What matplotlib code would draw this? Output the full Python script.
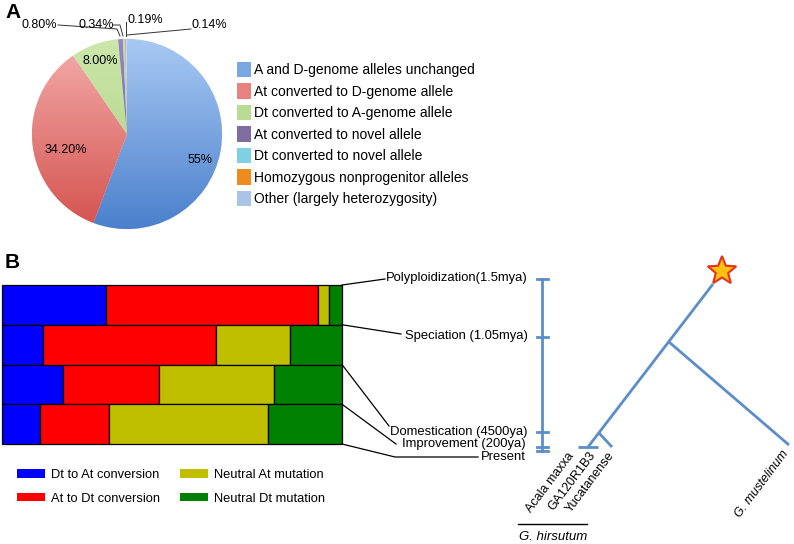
import numpy as np
import matplotlib.pyplot as plt
from matplotlib.patches import Patch, Polygon
from matplotlib.colors import LinearSegmentedColormap

plt.rcParams['font.family'] = ['Liberation Sans', 'DejaVu Sans']

W, H = 794, 544

# ---- panel A data
pie_labels = ['A and D-genome alleles unchanged', 'At converted to D-genome allele',
              'Dt converted to A-genome allele', 'At converted to novel allele',
              'Dt converted to novel allele', 'Homozygous nonprogenitor alleles',
              'Other (largely heterozygosity)']
pie_values = [55, 34.2, 8.0, 0.8, 0.34, 0.19, 0.14]
pie_text = ['55%', '34.20%', '8.00%', '0.80%', '0.34%', '0.19%', '0.14%']
pie_light = ['#a9c9f3', '#f4aeac', '#cde7ab', '#9a88b8', '#a6e2ee', '#f4a552', '#c5d8f0']
pie_dark = ['#4a80cc', '#d4524e', '#a6cf7c', '#6c5a8e', '#5cc0d6', '#e07a10', '#9ab8e0']
pie_mid = ['#79a7e2', '#e6837f', '#b9dc92', '#7f6ca0', '#7fd0e2', '#ee8a1e', '#aac4e8']

# ---- panel B data
stages = ['Polyploidization', 'Speciation', 'Domestication', 'Improvement']
dt_to_at = [0.306, 0.121, 0.179, 0.112]
at_to_dt = [0.624, 0.509, 0.282, 0.203]
neutral_at = [0.032, 0.218, 0.338, 0.468]
neutral_dt = [0.038, 0.152, 0.201, 0.217]
seg_names = ['Dt to At conversion', 'At to Dt conversion', 'Neutral At mutation', 'Neutral Dt mutation']
seg_colors = ['#0000ff', '#ff0000', '#bfbf00', '#008000']

events = ['Polyploidization(1.5mya)', 'Speciation (1.05mya)', 'Domestication (4500ya)',
          'Improvement (200ya)', 'Present']
event_text_y = [278, 336, 432, 444, 457]
event_text_right = [528, 528, 528, 526, 526]
event_line_end = [(385, 279), (401, 334), (389, 426), (396, 444), (395, 457)]
scale_ticks_y = [279, 337, 432, 447, 451]

# tree (pixel positions of nodes)
tree_edges = [((713, 284), (588, 447)),
              ((669, 342), (789, 445)),
              ((599, 433), (612, 447)),
              ((578, 447), (598, 447))]
tips = ['Acala maxxa', 'GA120R1B3', 'Yucatanense', 'G. mustelinum']
tip_xy = [(577, 458), (598, 457), (617, 457), (791, 455)]
tip_italic = [False, False, False, True]

tree_col = '#5b8ec8'

fig = plt.figure(figsize=(W / 100, H / 100), dpi=100)

# pie
axp = fig.add_axes([31 / W, 1 - 230 / H, 192 / W, 192 / H])
wedges, _ = axp.pie(pie_values, startangle=90, counterclock=False, colors=pie_mid,
                    radius=1, wedgeprops=dict(lw=0.4, edgecolor='white'))
grad = np.linspace(0, 1, 256).reshape(-1, 1)
for w, c1, c2 in zip(wedges, pie_light, pie_dark):
    cm = LinearSegmentedColormap.from_list('g', [c2, c1])
    im = axp.imshow(grad, extent=(-1, 1, -1, 1), origin='lower', cmap=cm,
                    aspect='auto', zorder=w.get_zorder() + 0.1)
    im.set_clip_path(w)
axp.set_xlim(-1.01, 1.01)
axp.set_ylim(-1.01, 1.01)
axp.set_aspect('equal')
axp.axis('off')
for txt, (x, y) in zip(pie_text[:3], [(0.77, -0.27), (-0.64, -0.17), (-0.28, 0.77)]):
    axp.text(x, y, txt, ha='center', va='center', fontsize=9, zorder=5)

fig.legend([Patch(facecolor=c, edgecolor='none') for c in pie_mid], pie_labels,
           loc='upper left', bbox_to_anchor=(237 / W, 1 - 62 / H), frameon=False,
           fontsize=10, handlelength=1.0, handleheight=1.3, handletextpad=0.25,
           labelspacing=0.45, borderpad=0, borderaxespad=0)

# bars
axb = fig.add_axes([2 / W, 1 - 444 / H, 340 / W, 159 / H])
ypos = np.arange(len(stages))
left = np.zeros(len(stages))
for vals, c in zip([dt_to_at, at_to_dt, neutral_at, neutral_dt], seg_colors):
    axb.barh(ypos, vals, left=left, height=1, color=c, edgecolor='black', lw=0.9,
             clip_on=False)
    left += np.array(vals)
axb.set_xlim(0, 1)
axb.set_ylim(len(stages) - 0.5, -0.5)
axb.axis('off')

fig.legend([Patch(facecolor=c, edgecolor='none') for c in seg_colors], seg_names,
           loc='upper left', bbox_to_anchor=(17 / W, 1 - 469 / H), ncol=2, frameon=False,
           fontsize=9.3, handlelength=2.15, handleheight=0.62, handletextpad=0.45,
           labelspacing=0.9, columnspacing=1.6, borderpad=0, borderaxespad=0)

# overlay in pixel coordinates
ax = fig.add_axes([0, 0, 1, 1])
ax.set_xlim(0, W)
ax.set_ylim(H, 0)
ax.axis('off')
ax.patch.set_alpha(0)

ax.text(5, 13, 'A', fontsize=15, fontweight='bold', va='center')
ax.text(5, 263, 'B', fontsize=15, fontweight='bold', va='center')

# pie outer labels + leaders
ax.text(57, 25, pie_text[3], ha='right', va='center', fontsize=9)
ax.text(96, 25, pie_text[4], ha='center', va='center', fontsize=9)
ax.text(128, 20, pie_text[5], ha='left', va='center', fontsize=9)
ax.text(192, 25, pie_text[6], ha='left', va='center', fontsize=9)
lk = dict(color='#333333', lw=0.7)
ax.plot([58, 117, 120], [25, 29, 36], **lk)
ax.plot([113, 120, 123], [25, 25, 36], **lk)
ax.plot([126, 126], [22, 36], **lk)
ax.plot([191, 127], [29, 35], **lk)

# event leaders
to_px = lambda a, xy: ax.transData.inverted().transform(a.transData.transform(xy))
for i, (name, ty, tx, end) in enumerate(zip(events, event_text_y, event_text_right, event_line_end)):
    sx, sy = to_px(axb, (1, i - 0.5))
    xs, ys = [sx, end[0]], [sy, end[1]]
    if name == 'Present':
        xs.append(478)
        ys.append(end[1])
    ax.plot(xs, ys, color='black', lw=0.9)
    ax.text(tx, ty, name, ha='right', va='center', fontsize=9.4)

# time scale bar
ax.plot([542, 542], [scale_ticks_y[0], scale_ticks_y[-1]], color=tree_col, lw=2)
for ty in scale_ticks_y:
    ax.plot([537, 548], [ty, ty], color=tree_col, lw=2)

# tree
for (x0, y0), (x1, y1) in tree_edges:
    ax.plot([x0, x1], [y0, y1], color=tree_col, lw=2, solid_capstyle='butt')
ang = np.deg2rad(90 + np.arange(10) * 36)
rad = np.where(np.arange(10) % 2 == 0, 15, 6.5)
ax.add_patch(Polygon(np.c_[722 + rad * np.cos(ang), 271 - rad * np.sin(ang)],
                     facecolor='#ffc20e', edgecolor='#e8321c', lw=1.5, zorder=5))
for name, (x, y), it in zip(tips, tip_xy, tip_italic):
    ax.text(x, y, name, rotation=53, rotation_mode='anchor', ha='right', va='bottom',
            fontsize=9, style='italic' if it else 'normal')
ax.plot([518, 587], [524, 524], color='black', lw=1)
ax.text(553, 537, 'G. hirsutum', ha='center', va='center', fontsize=9.5, style='italic')

fig.savefig('out.png', dpi=100)
